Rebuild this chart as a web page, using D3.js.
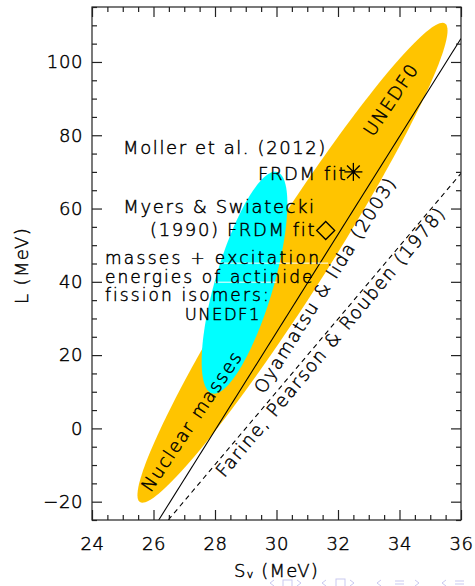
<!DOCTYPE html>
<html>
<head>
<meta charset="utf-8">
<script src="https://cdn.jsdelivr.net/npm/d3@7"></script>
<style>
  html, body { margin: 0; padding: 0; background: #fff; }
  svg { display: block; }
  text { font-family: "DejaVu Sans", sans-serif; font-weight: 200; fill: #000;
         stroke: #000; stroke-width: 0.45px; }
</style>
</head>
<body>
<svg id="chart" width="475" height="586"></svg>
<script>
// ---- data ----------------------------------------------------------------
const svTicks = [24, 26, 28, 30, 32, 34, 36];
const lTicks = [-20, 0, 20, 40, 60, 80, 100];
const svDomain = [24, 36];
const lDomain = [-25, 115];

// Constraint regions: centre, semi-axis A and conjugate semi-axis B (MeV)
const unedf0Center = [30.52, 45.2];
const unedf0AxisA = [4.96, 65.3];
const unedf0AxisB = [0.905, -4.84];
const unedf1Center = [28.96, 39.76];
const unedf1AxisA = [1.06, 30.19];
const unedf1AxisB = [0.905, -2.23];

// Correlation lines (end points on the frame)
const oyamatsuSv = [26.17, 36];
const oyamatsuL = [-25, 106.4];
const farineSv = [26.48, 36];
const farineL = [-25, 69.6];

// Single model points
const mollerPoint = [32.5, 70];
const myersPoint = [31.6, 54];

// ---- layout --------------------------------------------------------------
const svg = d3.select("#chart");
const frameL = 92, frameR = 461, frameT = 7, frameB = 520;
const x = d3.scaleLinear().domain(svDomain).range([frameL, frameR]);
const y = d3.scaleLinear().domain(lDomain).range([frameB, frameT]);

svg.append("defs").append("clipPath").attr("id", "plotClip")
  .append("rect").attr("x", frameL).attr("y", frameT)
  .attr("width", frameR - frameL).attr("height", frameB - frameT);

const plot = svg.append("g").attr("clip-path", "url(#plotClip)");

function ellipsePoints(c, a, b) {
  return d3.range(0, 360, 2).map(deg => {
    const t = deg * Math.PI / 180;
    return [x(c[0] + a[0] * Math.cos(t) + b[0] * Math.sin(t)),
            y(c[1] + a[1] * Math.cos(t) + b[1] * Math.sin(t))];
  });
}
const closedLine = d3.line().curve(d3.curveLinearClosed);

plot.append("path")
  .attr("d", closedLine(ellipsePoints(unedf0Center, unedf0AxisA, unedf0AxisB)))
  .attr("fill", "#ffc400");
plot.append("path")
  .attr("d", closedLine(ellipsePoints(unedf1Center, unedf1AxisA, unedf1AxisB)))
  .attr("fill", "#00ffff");

const seg = d3.line();
plot.append("path")
  .attr("d", seg(oyamatsuSv.map((s, i) => [x(s), y(oyamatsuL[i])])))
  .attr("stroke", "#000").attr("stroke-width", 1.1).attr("fill", "none");
plot.append("path")
  .attr("d", seg(farineSv.map((s, i) => [x(s), y(farineL[i])])))
  .attr("stroke", "#000").attr("stroke-width", 1.1).attr("fill", "none")
  .attr("stroke-dasharray", "5,4");

// thin white rules under two caption lines
[[28.1, 31.68, 45.1], [28.0, 30.0, 39.9]].forEach(r => {
  plot.append("line")
    .attr("x1", x(r[0])).attr("x2", x(r[1]))
    .attr("y1", y(r[2])).attr("y2", y(r[2]))
    .attr("stroke", "#fff").attr("stroke-width", 1);
});

// asterisk marker
{
  const cx = x(mollerPoint[0]), cy = y(mollerPoint[1]), r = 9;
  const g = plot.append("g").attr("stroke", "#000").attr("stroke-width", 1.3);
  [0, 45, 90, 135].forEach(a => {
    const t = a * Math.PI / 180;
    g.append("line")
      .attr("x1", cx - r * Math.cos(t)).attr("y1", cy - r * Math.sin(t))
      .attr("x2", cx + r * Math.cos(t)).attr("y2", cy + r * Math.sin(t));
  });
  plot.append("circle").attr("cx", cx).attr("cy", cy).attr("r", 1.8).attr("fill", "#000");
}
// diamond marker
{
  const cx = x(myersPoint[0]), cy = y(myersPoint[1]), r = 9;
  plot.append("path")
    .attr("d", closedLine([[cx - r, cy], [cx, cy - r], [cx + r, cy], [cx, cy + r]]))
    .attr("fill", "none").attr("stroke", "#000").attr("stroke-width", 1.3);
}

// ---- axes ----------------------------------------------------------------
const svMinor = d3.range(24, 36.001, 0.5).filter(v => !svTicks.includes(v));
const lMinor = d3.range(-25, 115.001, 5).filter(v => !lTicks.includes(v));
const axisColor = "#222";

function styleAxis(g) {
  g.select(".domain").remove();
  g.selectAll(".tick line").attr("stroke", axisColor).attr("stroke-width", 1.2);
  g.selectAll(".tick text")
    .style("font-family", "'DejaVu Sans', sans-serif").style("font-weight", "200")
    .style("font-size", "18px").style("letter-spacing", "0.6px")
    .attr("fill", "#000").attr("stroke", "#000").attr("stroke-width", 0.45);
}

svg.append("g").attr("transform", `translate(0,${frameB})`)
  .call(d3.axisBottom(x).tickValues(svTicks).tickSizeInner(-10).tickSizeOuter(0).tickPadding(17)
    .tickFormat(d3.format("d")))
  .call(styleAxis);
svg.append("g").attr("transform", `translate(0,${frameB})`)
  .call(d3.axisBottom(x).tickValues(svMinor).tickSizeInner(-5).tickSizeOuter(0).tickFormat(""))
  .call(styleAxis);
svg.append("g").attr("transform", `translate(0,${frameT})`)
  .call(d3.axisTop(x).tickValues(svTicks).tickSizeInner(-10).tickSizeOuter(0).tickFormat(""))
  .call(styleAxis);
svg.append("g").attr("transform", `translate(0,${frameT})`)
  .call(d3.axisTop(x).tickValues(svMinor).tickSizeInner(-5).tickSizeOuter(0).tickFormat(""))
  .call(styleAxis);

svg.append("g").attr("transform", `translate(${frameL},0)`)
  .call(d3.axisLeft(y).tickValues(lTicks).tickSizeInner(-10).tickSizeOuter(0).tickPadding(9)
    .tickFormat(d => d < 0 ? "\u2212" + Math.abs(d) : d))
  .call(styleAxis);
svg.append("g").attr("transform", `translate(${frameL},0)`)
  .call(d3.axisLeft(y).tickValues(lMinor).tickSizeInner(-5).tickSizeOuter(0).tickFormat(""))
  .call(styleAxis);
svg.append("g").attr("transform", `translate(${frameR},0)`)
  .call(d3.axisRight(y).tickValues(lTicks).tickSizeInner(-10).tickSizeOuter(0).tickFormat(""))
  .call(styleAxis);
svg.append("g").attr("transform", `translate(${frameR},0)`)
  .call(d3.axisRight(y).tickValues(lMinor).tickSizeInner(-5).tickSizeOuter(0).tickFormat(""))
  .call(styleAxis);

svg.append("rect")
  .attr("x", frameL).attr("y", frameT).attr("width", frameR - frameL).attr("height", frameB - frameT)
  .attr("fill", "none").attr("stroke", axisColor).attr("stroke-width", 1.2);

// ---- axis titles ---------------------------------------------------------
const xTitle = svg.append("text")
  .attr("x", (frameL + frameR) / 2).attr("y", 577)
  .attr("text-anchor", "middle")
  .style("font-size", "18px").style("letter-spacing", "1.2px");
xTitle.append("tspan").text("S");
xTitle.append("tspan").text("v").style("font-size", "11px").attr("dy", 1);
xTitle.append("tspan").text(" (MeV)").attr("dy", -1);

svg.append("text")
  .attr("transform", `translate(28,${(frameT + frameB) / 2 + 2}) rotate(-90)`)
  .attr("text-anchor", "middle")
  .style("font-size", "18px").style("letter-spacing", "1.4px")
  .text("L (MeV)");

// ---- annotations ---------------------------------------------------------
const annoSize = "18px", annoSpacing = "1.6px";
const captions = [
  ["Moller et al. (2012)", 25.01, 74.8, 18, 1.6],
  ["FRDM fit", 29.40, 67.7, 18, 1.6],
  ["Myers & Swiatecki", 25.02, 58.7, 18, 1.6],
  ["(1990) FRDM fit", 25.89, 52.4, 18, 1.6],
  ["masses + excitation", 24.42, 44.9, 17, 2.3],
  ["energies of actinide", 24.42, 39.8, 17, 2.1],
  ["fission isomers:", 24.42, 34.85, 17, 2.1],
  ["UNEDF1", 27.02, 29.7, 16.5, 1.4]
];
captions.forEach(([t, sv, l, fs, ls]) => {
  svg.append("text").attr("x", x(sv)).attr("y", y(l))
    .style("font-size", fs + "px").style("letter-spacing", ls + "px").text(t);
});

const slanted = [
  ["UNEDF0", 33.72, 89.8, -56],
  ["Nuclear masses", 27.24, 2.07, -56],
  ["Oyamatsu & Iida (2003)", 31.58, 39.2, -58],
  ["Farine, Pearson & Rouben (1978)", 31.76, 23.7, -50]
];
slanted.forEach(([t, sv, l, ang]) => {
  svg.append("text")
    .attr("transform", `translate(${x(sv)},${y(l)}) rotate(${ang})`)
    .attr("text-anchor", "middle").attr("dy", "0.36em")
    .style("font-size", annoSize).style("letter-spacing", annoSpacing).text(t);
});

// ---- navigation glyphs along the bottom edge -----------------------------
const nav = svg.append("g").attr("stroke", "#c9c9f0").attr("fill", "none").attr("stroke-width", 1);
[270, 322, 377, 442].forEach(px => nav.append("path").attr("d", `M${px + 4},580 L${px},583 L${px + 4},586`));
[297, 350, 415].forEach(px => nav.append("path").attr("d", `M${px},580 L${px + 4},583 L${px},586`));
nav.append("rect").attr("x", 283).attr("y", 580).attr("width", 9).attr("height", 8);
nav.append("rect").attr("x", 336).attr("y", 579).attr("width", 9).attr("height", 9);
[395, 455].forEach(px => {
  [581, 584].forEach(py => nav.append("line").attr("x1", px).attr("x2", px + 9).attr("y1", py).attr("y2", py));
});
</script>
</body>
</html>
